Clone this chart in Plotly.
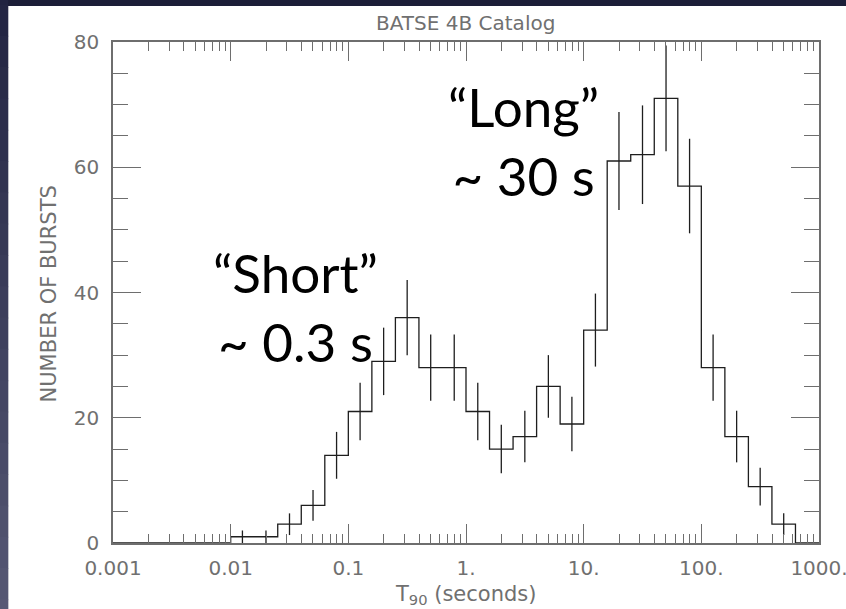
import plotly.graph_objects as go

# Duration histogram of gamma-ray bursts (BATSE 4B catalog), 0.2-dex bins in T90
bin_edge_log10 = [-3.0, -2.8, -2.6, -2.4, -2.2, -2.0, -1.8, -1.6, -1.4, -1.2,
                  -1.0, -0.8, -0.6, -0.4, -0.2, 0.0, 0.2, 0.4, 0.6, 0.8,
                  1.0, 1.2, 1.4, 1.6, 1.8, 2.0, 2.2, 2.4, 2.6, 2.8, 3.0]
burst_counts = [0, 0, 0, 0, 0, 1, 1, 3, 6, 14,
                21, 29, 36, 28, 28, 21, 15, 17, 25, 19,
                34, 61, 62, 71, 57, 28, 17, 9, 3, 0]

x_tick_vals = [0.001, 0.01, 0.1, 1, 10, 100, 1000]
x_tick_text = ["0.001", "0.01", "0.1", "1.", "10.", "100.", "1000."]
y_tick_vals = [0, 20, 40, 60, 80]

# bin edges and centres in seconds
edges = [10 ** e for e in bin_edge_log10]
centres = [10 ** ((a + b) / 2) for a, b in zip(bin_edge_log10[:-1], bin_edge_log10[1:])]

# stepped outline: each count holds from its lower edge to the next edge
step_x = edges[:-1] + [edges[-1]]
step_y = burst_counts + [burst_counts[-1]]

# Poisson error bars on the non-empty bins
err_x = [c for c, n in zip(centres, burst_counts) if n > 0]
err_y = [n for n in burst_counts if n > 0]
err_sd = [n ** 0.5 for n in err_y]

INK = "#1e1e1e"
AXIS = "#6e6e6e"
GREY_TEXT = "#707070"
LABEL_FONT = dict(family="DejaVu Sans", size=20, color=GREY_TEXT)

fig = go.Figure()
fig.add_trace(go.Scatter(
    x=step_x, y=step_y, mode="lines", line=dict(shape="hv", color=INK, width=1.3),
    hoverinfo="skip", showlegend=False,
))
fig.add_trace(go.Scatter(
    x=err_x, y=err_y, mode="markers", marker=dict(size=0.1, color=INK, opacity=0),
    error_y=dict(type="data", array=err_sd, visible=True, width=0, thickness=1.3, color=INK),
    hoverinfo="skip", showlegend=False,
))

# minor ticks at 2..9 within each decade
x_minor = [m * 10 ** d for d in range(-3, 3) for m in range(2, 10)]

fig.update_xaxes(
    type="log", range=[-3, 3], automargin=False,
    tickmode="array", tickvals=x_tick_vals, ticktext=x_tick_text,
    ticks="inside", ticklen=19, tickwidth=1.3, tickcolor=AXIS,
    minor=dict(tickmode="array", tickvals=x_minor, ticks="inside", ticklen=9,
               tickwidth=1.3, tickcolor=AXIS, showgrid=False),
    showline=True, linecolor=AXIS, linewidth=1.5, mirror="ticks",
    showgrid=False, zeroline=False, tickfont=LABEL_FONT, ticklabelstandoff=6,
    ticklabeloverflow="allow",
)
fig.update_yaxes(
    range=[0, 80], automargin=False, tickmode="array", tickvals=y_tick_vals,
    ticks="inside", ticklen=28, tickwidth=1.3, tickcolor=AXIS,
    minor=dict(dtick=5, ticks="inside", ticklen=15, tickwidth=1.3,
               tickcolor=AXIS, showgrid=False),
    showline=True, linecolor=AXIS, linewidth=1.5, mirror="ticks",
    showgrid=False, zeroline=False, tickfont=LABEL_FONT, ticklabelstandoff=8,
    ticklabeloverflow="allow",
)

# slide backdrop: dark vignette strip on the left, white panel behind the plot
shapes = [dict(type="rect", xref="paper", yref="paper", x0=-0.1485, x1=1.2,
               y0=-0.3, y1=1.072, fillcolor="white", line_width=0, layer="below")]
top_rgb = (30, 32, 62)
bot_rgb = (92, 94, 122)
n_bands = 24
for i in range(n_bands):
    t = i / (n_bands - 1)
    rgb = tuple(int(round(a + (b - a) * t)) for a, b in zip(top_rgb, bot_rgb))
    y_hi = 1.2 - i * (1.5 / n_bands)
    shapes.append(dict(type="rect", xref="paper", yref="paper", x0=-0.3, x1=-0.1485,
                       y0=y_hi - 1.5 / n_bands - 0.002, y1=y_hi,
                       fillcolor="rgb(%d,%d,%d)" % rgb, line_width=0, layer="below"))

annotations = [
    dict(text="BATSE 4B Catalog", xref="paper", yref="paper", x=0.499, y=1.0,
         xanchor="center", yanchor="bottom", yshift=5, showarrow=False,
         font=dict(family="DejaVu Sans", size=20, color=GREY_TEXT)),
    dict(text="T<sub>90</sub> (seconds)", xref="paper", yref="paper", x=0.499, y=-0.104,
         xanchor="center", yanchor="middle", showarrow=False,
         font=dict(family="DejaVu Sans", size=21, color=GREY_TEXT)),
    dict(text="NUMBER OF BURSTS", xref="paper", yref="paper", x=-0.09, y=0.497,
         xanchor="center", yanchor="middle", textangle=-90, showarrow=False,
         font=dict(family="DejaVu Sans", size=21, color=GREY_TEXT)),
    dict(text="\u201cShort\u201d<br>~ 0.3 s", xref="paper", yref="paper", x=0.258, y=0.472,
         xanchor="center", yanchor="middle", showarrow=False, align="center",
         font=dict(family="Lato", size=53, color="black")),
    dict(text="\u201cLong\u201d<br>~ 30 s", xref="paper", yref="paper", x=0.581, y=0.802,
         xanchor="center", yanchor="middle", showarrow=False, align="center",
         font=dict(family="Lato", size=53, color="black")),
]

fig.update_layout(
    width=846, height=609,
    margin=dict(l=113, r=27, t=42, b=66),
    paper_bgcolor="rgb(28,30,56)", plot_bgcolor="white",
    shapes=shapes, annotations=annotations,
)

fig.write_html("out.html")
